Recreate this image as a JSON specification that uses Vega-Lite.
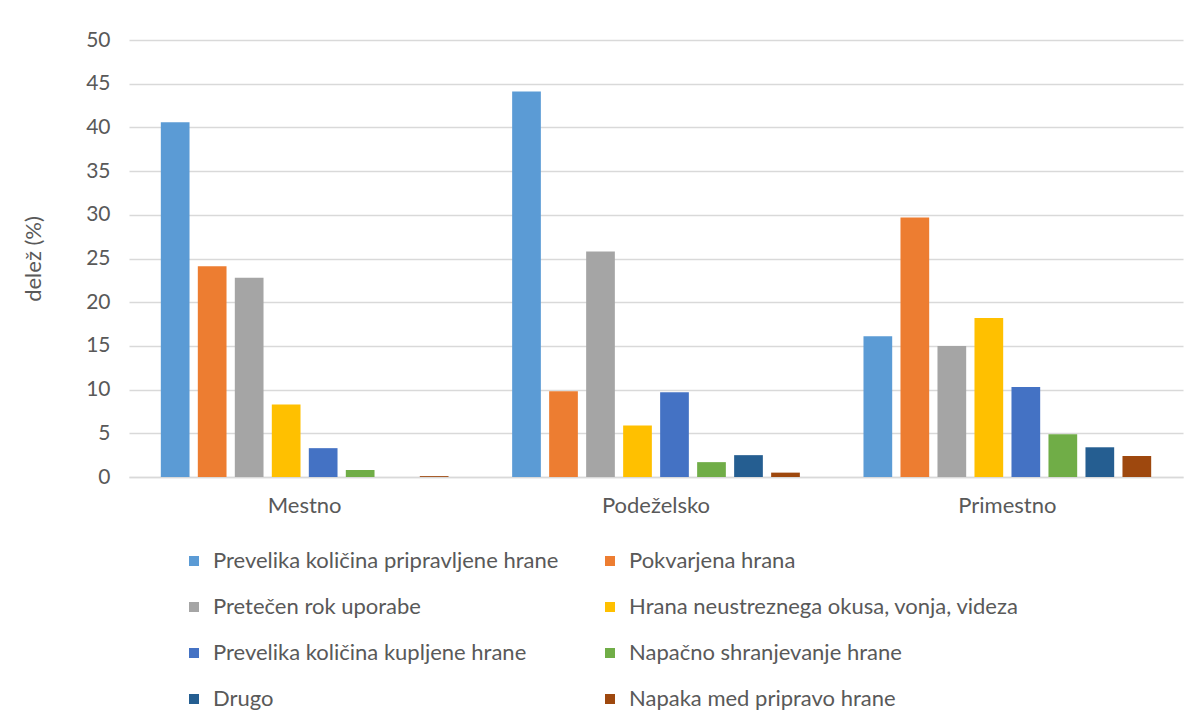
{
  "$schema": "https://vega.github.io/schema/vega-lite/v6.json",
  "width": 1054,
  "height": 437,
  "autosize": {"type": "none"},
  "padding": {"left": 129, "top": 40, "right": 18, "bottom": 248},
  "background": "white",
  "config": {
    "view": {"stroke": null},
    "font": "Lato"
  },
  "data": {
    "values": [
      {"obmocje": "Mestno", "razlog": "Prevelika količina pripravljene hrane", "delez": 40.6},
      {"obmocje": "Mestno", "razlog": "Pokvarjena hrana", "delez": 24.1},
      {"obmocje": "Mestno", "razlog": "Pretečen rok uporabe", "delez": 22.8},
      {"obmocje": "Mestno", "razlog": "Hrana neustreznega okusa, vonja, videza", "delez": 8.3},
      {"obmocje": "Mestno", "razlog": "Prevelika količina kupljene  hrane", "delez": 3.3},
      {"obmocje": "Mestno", "razlog": "Napačno shranjevanje hrane", "delez": 0.8},
      {"obmocje": "Mestno", "razlog": "Drugo", "delez": 0},
      {"obmocje": "Mestno", "razlog": "Napaka med pripravo hrane", "delez": 0.1},
      {"obmocje": "Podeželsko", "razlog": "Prevelika količina pripravljene hrane", "delez": 44.1},
      {"obmocje": "Podeželsko", "razlog": "Pokvarjena hrana", "delez": 9.8},
      {"obmocje": "Podeželsko", "razlog": "Pretečen rok uporabe", "delez": 25.8},
      {"obmocje": "Podeželsko", "razlog": "Hrana neustreznega okusa, vonja, videza", "delez": 5.9},
      {"obmocje": "Podeželsko", "razlog": "Prevelika količina kupljene  hrane", "delez": 9.7},
      {"obmocje": "Podeželsko", "razlog": "Napačno shranjevanje hrane", "delez": 1.7},
      {"obmocje": "Podeželsko", "razlog": "Drugo", "delez": 2.5},
      {"obmocje": "Podeželsko", "razlog": "Napaka med pripravo hrane", "delez": 0.5},
      {"obmocje": "Primestno", "razlog": "Prevelika količina pripravljene hrane", "delez": 16.1},
      {"obmocje": "Primestno", "razlog": "Pokvarjena hrana", "delez": 29.7},
      {"obmocje": "Primestno", "razlog": "Pretečen rok uporabe", "delez": 15.0},
      {"obmocje": "Primestno", "razlog": "Hrana neustreznega okusa, vonja, videza", "delez": 18.2},
      {"obmocje": "Primestno", "razlog": "Prevelika količina kupljene  hrane", "delez": 10.3},
      {"obmocje": "Primestno", "razlog": "Napačno shranjevanje hrane", "delez": 4.9},
      {"obmocje": "Primestno", "razlog": "Drugo", "delez": 3.4},
      {"obmocje": "Primestno", "razlog": "Napaka med pripravo hrane", "delez": 2.4}
    ]
  },
  "mark": {"type": "bar"},
  "encoding": {
    "x": {
      "field": "obmocje",
      "type": "nominal",
      "scale": {"paddingInner": 0, "paddingOuter": 0},
      "axis": {
        "title": null,
        "labelAngle": 0,
        "labelFontSize": 22,
        "labelColor": "#595959",
        "labelPadding": 18,
        "ticks": false,
        "domain": true,
        "domainColor": "#D9D9D9",
        "domainWidth": 1.5
      }
    },
    "xOffset": {
      "field": "razlog",
      "type": "nominal",
      "sort": [
        "Prevelika količina pripravljene hrane",
        "Pokvarjena hrana",
        "Pretečen rok uporabe",
        "Hrana neustreznega okusa, vonja, videza",
        "Prevelika količina kupljene  hrane",
        "Napačno shranjevanje hrane",
        "Drugo",
        "Napaka med pripravo hrane"
      ],
      "scale": {"paddingInner": 0.224, "paddingOuter": 0.86}
    },
    "y": {
      "field": "delez",
      "type": "quantitative",
      "scale": {"domain": [0, 50]},
      "axis": {
        "title": "delež (%)",
        "titleFontSize": 22,
        "titleFontWeight": "normal",
        "titleColor": "#595959",
        "titlePadding": 40,
        "values": [0, 5, 10, 15, 20, 25, 30, 35, 40, 45, 50],
        "labelFontSize": 21,
        "labelColor": "#595959",
        "labelPadding": 19,
        "ticks": false,
        "domain": false,
        "gridColor": "#D9D9D9",
        "gridWidth": 1.5
      }
    },
    "color": {
      "field": "razlog",
      "type": "nominal",
      "scale": {
        "domain": [
          "Prevelika količina pripravljene hrane",
          "Pokvarjena hrana",
          "Pretečen rok uporabe",
          "Hrana neustreznega okusa, vonja, videza",
          "Prevelika količina kupljene  hrane",
          "Napačno shranjevanje hrane",
          "Drugo",
          "Napaka med pripravo hrane"
        ],
        "range": ["#5B9BD5", "#ED7D31", "#A5A5A5", "#FFC000", "#4472C4", "#70AD47", "#255E91", "#9E480E"]
      },
      "legend": {
        "title": null,
        "orient": "none",
        "legendX": 54,
        "legendY": 510,
        "direction": "horizontal",
        "columns": 2,
        "columnPadding": 40,
        "rowPadding": 24,
        "symbolType": "square",
        "symbolSize": 100,
        "symbolStrokeWidth": 0,
        "labelFontSize": 22,
        "labelColor": "#595959",
        "labelOffset": 8,
        "labelLimit": 600
      }
    }
  }
}
